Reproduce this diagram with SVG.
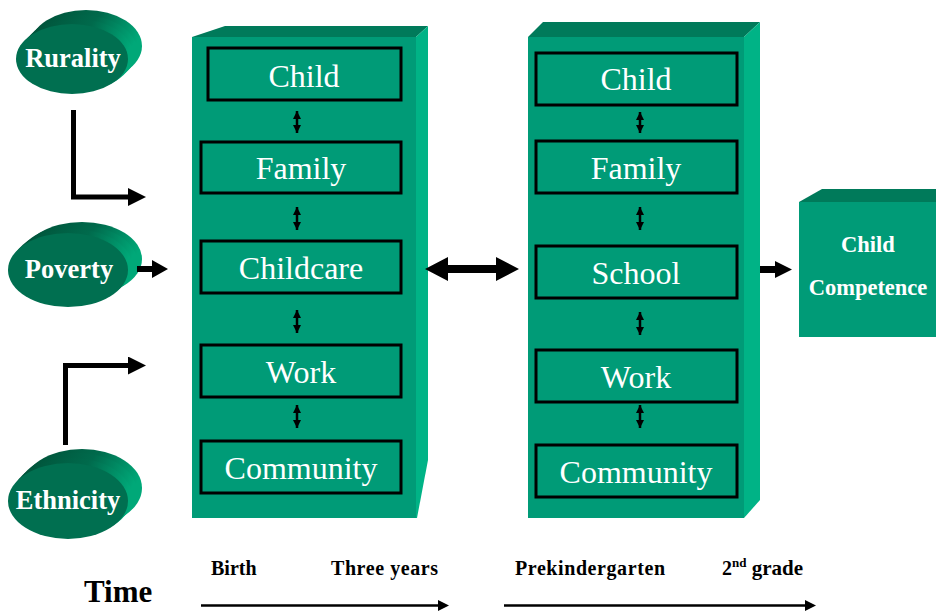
<svg xmlns="http://www.w3.org/2000/svg" width="936" height="612" viewBox="0 0 936 612">
  <defs>
    <linearGradient id="cylSide" x1="0" y1="0" x2="1" y2="0.3">
      <stop offset="0" stop-color="#004d35"/>
      <stop offset="0.6" stop-color="#006a4c"/>
      <stop offset="1" stop-color="#00a878"/>
    </linearGradient>
    <marker id="head" viewBox="0 0 10 10" refX="0" refY="5" markerWidth="18" markerHeight="18" markerUnits="userSpaceOnUse" orient="auto">
      <path d="M0,0 L10,5 L0,10 Z" fill="#000"/>
    </marker>
    <marker id="tip" viewBox="0 0 10 10" refX="10" refY="5" markerWidth="8" markerHeight="8" markerUnits="userSpaceOnUse" orient="auto-start-reverse">
      <path d="M0,0 L10,5 L0,10 Z" fill="#000"/>
    </marker>
  </defs>
  <style>
    .front { fill: #009b77; }
    .top { fill: #007a5a; }
    .side { fill: #00b386; }
    .box { fill: #009b77; stroke: #000; stroke-width: 3; }
    .lbl { font-family: "Liberation Serif", "Times New Roman", serif; font-size: 32px; fill: #fff; text-anchor: middle; }
    .oval { fill: #006f50; }
    .ovallbl { font-family: "Liberation Serif", "Times New Roman", serif; font-size: 26.5px; font-weight: bold; fill: #fff; text-anchor: middle; }
    .cc { font-family: "Liberation Serif", "Times New Roman", serif; font-size: 22.5px; font-weight: bold; fill: #fff; text-anchor: middle; }
    .tl { font-family: "Liberation Serif", "Times New Roman", serif; font-size: 20px; font-weight: bold; fill: #000; }
    .link { fill: none; stroke: #000; stroke-width: 5; }
    .small { fill: none; stroke: #000; stroke-width: 2.5; marker-start: url(#tip); marker-end: url(#tip); }
    .time { fill: none; stroke: #000; stroke-width: 2.5; }
  </style>

  <!-- Oval factor nodes (extruded) -->
  <g id="rurality">
    <ellipse cx="86" cy="46" rx="56" ry="36" fill="url(#cylSide)"/>
    <ellipse cx="81" cy="51" rx="56" ry="36" fill="url(#cylSide)"/>
    <ellipse cx="77" cy="55" rx="56" ry="36" fill="url(#cylSide)"/>
    <ellipse class="oval" cx="72" cy="59" rx="56" ry="35"/>
    <text class="ovallbl" x="73" y="67">Rurality</text>
  </g>
  <g id="poverty">
    <ellipse cx="82" cy="259" rx="60" ry="37" fill="url(#cylSide)"/>
    <ellipse cx="77" cy="262" rx="60" ry="37" fill="url(#cylSide)"/>
    <ellipse cx="72" cy="266" rx="60" ry="37" fill="url(#cylSide)"/>
    <ellipse class="oval" cx="68" cy="270" rx="60" ry="37"/>
    <text class="ovallbl" x="69" y="278">Poverty</text>
  </g>
  <g id="ethnicity">
    <ellipse cx="82" cy="488" rx="60" ry="39" fill="url(#cylSide)"/>
    <ellipse cx="77" cy="492" rx="60" ry="39" fill="url(#cylSide)"/>
    <ellipse cx="72" cy="497" rx="60" ry="39" fill="url(#cylSide)"/>
    <ellipse class="oval" cx="68" cy="501" rx="60" ry="38"/>
    <text class="ovallbl" x="68" y="509">Ethnicity</text>
  </g>

  <!-- Early childhood block -->
  <g id="early-block">
    <polygon class="top" points="192,37 225,26 428,26 416,37"/>
    <polygon class="side" points="416,37 428,26 428,460 417,518 416,518"/>
    <rect class="front" x="192" y="37" width="224" height="481"/>
  </g>
  <g id="early-child"><rect class="box" x="208" y="48" width="193" height="52"/><text class="lbl" x="304" y="87">Child</text></g>
  <g id="early-family"><rect class="box" x="201" y="142" width="200" height="51"/><text class="lbl" x="301" y="179">Family</text></g>
  <g id="early-childcare"><rect class="box" x="201" y="241" width="200" height="52"/><text class="lbl" x="301" y="279">Childcare</text></g>
  <g id="early-work"><rect class="box" x="201" y="345" width="200" height="52"/><text class="lbl" x="301" y="383">Work</text></g>
  <g id="early-community"><rect class="box" x="201" y="441" width="200" height="52"/><text class="lbl" x="301" y="479">Community</text></g>

  <!-- School-age block -->
  <g id="school-block">
    <polygon class="top" points="528,37 543,22 760,22 744,37"/>
    <polygon class="side" points="744,37 760,22 760,500 744,518"/>
    <rect class="front" x="528" y="37" width="216" height="481"/>
  </g>
  <g id="school-child"><rect class="box" x="536" y="53" width="201" height="52"/><text class="lbl" x="636" y="90">Child</text></g>
  <g id="school-family"><rect class="box" x="536" y="141" width="201" height="52"/><text class="lbl" x="636" y="179">Family</text></g>
  <g id="school-school"><rect class="box" x="536" y="246" width="201" height="52"/><text class="lbl" x="636" y="284">School</text></g>
  <g id="school-work"><rect class="box" x="536" y="350" width="201" height="52"/><text class="lbl" x="636" y="388">Work</text></g>
  <g id="school-community"><rect class="box" x="536" y="445" width="201" height="52"/><text class="lbl" x="636" y="483">Community</text></g>

  <!-- Outcome -->
  <g id="child-competence">
    <polygon class="top" points="799,202 822,189 936,189 936,202"/>
    <rect class="front" x="799" y="202" width="137" height="135"/>
    <text class="cc" x="868" y="252">Child</text>
    <text class="cc" x="868" y="295">Competence</text>
  </g>

  <!-- Connectors -->
  <g id="connectors">
    <!-- factor links -->
    <path class="link" d="M73.5,110 V197 H128" marker-end="url(#head)"/>
    <path class="link" d="M65.5,445 V365.5 H128" marker-end="url(#head)"/>
    <polygon points="137,266 152,266 152,260 168,269 152,278 152,272 137,272" fill="#000"/>
    <!-- block to block -->
    <polygon points="425,269 448,257 448,265 496,265 496,257 519,269 496,281 496,273 448,273 448,281" fill="#000"/>
    <!-- block to outcome -->
    <polygon points="760,266 775,266 775,261 792,269.5 775,278 775,273 760,273" fill="#000"/>
    <!-- links between layers -->
    <line class="small" x1="297" y1="111" x2="297" y2="133"/>
    <line class="small" x1="297" y1="207" x2="297" y2="230"/>
    <line class="small" x1="297" y1="310" x2="297" y2="333"/>
    <line class="small" x1="297" y1="405" x2="297" y2="428"/>
    <line class="small" x1="640" y1="112" x2="640" y2="133"/>
    <line class="small" x1="640" y1="207" x2="640" y2="230"/>
    <line class="small" x1="640" y1="312" x2="640" y2="335"/>
    <line class="small" x1="640" y1="405" x2="640" y2="428"/>
  </g>

  <!-- Time axis -->
  <g id="timeline">
    <text x="84" y="602" font-family="Liberation Serif, Times New Roman, serif" font-size="31" font-weight="bold" fill="#000">Time</text>
    <text class="tl" x="211" y="575">Birth</text>
    <text class="tl" x="331" y="575" textLength="107">Three years</text>
    <text class="tl" x="515" y="575" textLength="150">Prekindergarten</text>
    <text class="tl" x="722" y="575">2<tspan font-size="13" dy="-8">nd</tspan><tspan dy="8" font-size="21"> grade</tspan></text>
    <line class="time" x1="201" y1="605.5" x2="440" y2="605.5"/>
    <polygon points="438,600 449,605.5 438,611" fill="#000"/>
    <line class="time" x1="504" y1="605.5" x2="807" y2="605.5"/>
    <polygon points="805,600 816,605.5 805,611" fill="#000"/>
  </g>
</svg>
